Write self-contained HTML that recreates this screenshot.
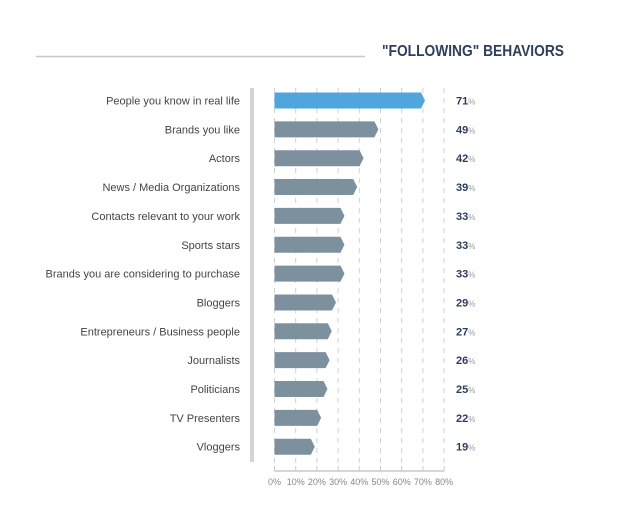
<!DOCTYPE html>
<html><head><meta charset="utf-8"><style>
body{margin:0;background:#fff;}
svg{display:block;font-family:"Liberation Sans",sans-serif;}
</style></head><body>
<svg id="c" width="617" height="525" viewBox="0 0 617 525">
<line x1="36" y1="56.5" x2="365" y2="56.5" stroke="#c8c8c8" stroke-width="1.5"/>
<text x="382" y="56" font-size="16" font-weight="bold" fill="#2c3e5c" textLength="182" lengthAdjust="spacingAndGlyphs">"FOLLOWING" BEHAVIORS</text>
<rect x="250" y="88" width="4" height="374" fill="#d4d4d4"/>
<g id="grid"></g><g id="bars"></g><g id="axis"></g>
</svg>
<script>
const categories=["People you know in real life","Brands you like","Actors","News / Media Organizations","Contacts relevant to your work","Sports stars","Brands you are considering to purchase","Bloggers","Entrepreneurs / Business people","Journalists","Politicians","TV Presenters","Vloggers"];
const values=[71,49,42,39,33,33,33,29,27,26,25,22,19];
const ticks=[0,10,20,30,40,50,60,70,80];
const NS="http://www.w3.org/2000/svg";
const x=v=>274.5+v*2.12;
const y=i=>100.5+i*28.85;
function mk(t,a,p){const e=document.createElementNS(NS,t);for(const k in a)e.setAttribute(k,a[k]);p.appendChild(e);return e;}
const grid=document.getElementById('grid'),bars=document.getElementById('bars'),axis=document.getElementById('axis');
ticks.forEach(t=>{
 const g=mk('line',{x1:x(t),x2:x(t),y1:88,y2:466,stroke:'#d0d0d0','stroke-width':1,'stroke-dasharray':'5,5'},grid);
 
 
 const l=mk('text',{x:x(t),y:485,'font-size':9,fill:'#888','text-anchor':'middle'},axis);
 l.textContent=t+'%';
 
 
 const tk=mk('line',{x1:x(t),x2:x(t),y1:466,y2:471,stroke:'#c8c8c8','stroke-width':1},axis);
 
 
});
const ax=mk('line',{x1:x(0),x2:x(80),y1:471,y2:471,stroke:'#c8c8c8','stroke-width':1.5},axis);


values.forEach((v,i)=>{
 const cy=y(i),h=8,x0=x(0),x1=x(v);
 const p=mk('polygon',{points:`${x0},${cy-h} ${x1-4},${cy-h} ${x1},${cy} ${x1-4},${cy+h} ${x0},${cy+h}`,fill:i===0?'#4fa5dc':'#7d909e'},bars);
 
 
 const lb=mk('text',{x:240,y:cy+4,'font-size':11,fill:'#444','text-anchor':'end'},bars);
 lb.textContent=categories[i];
 
 
 const vl=mk('text',{x:456,y:cy+4,'font-size':11,fill:'#2c3e5c','font-weight':'bold'},bars);
 vl.textContent=v;
 const ps=mk('tspan',{'font-size':8,fill:'#999','font-weight':'normal'},vl);
 ps.textContent='%';
 
 
});
</script>
</body></html>
